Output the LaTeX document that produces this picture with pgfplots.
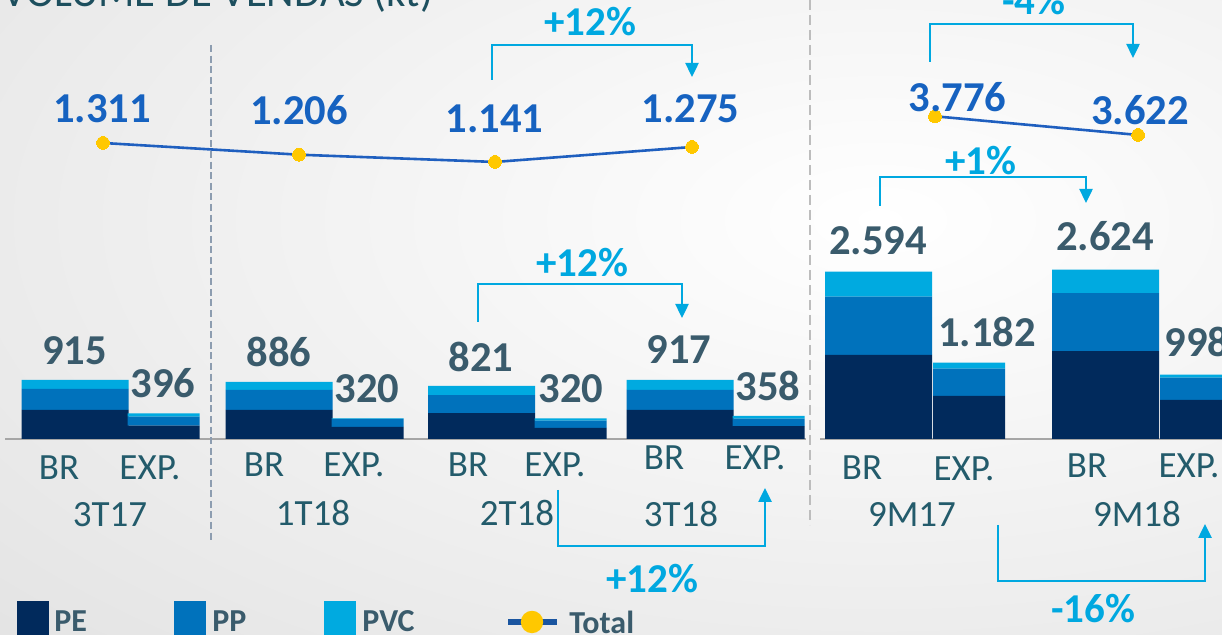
\documentclass[border=0pt]{standalone}
\usepackage{pgfplots}
\usepackage{pgfplotstable}
\pgfplotsset{compat=1.18}
\usepackage{fontspec}
\setmainfont{Carlito}
\usetikzlibrary{arrows.meta}
\definecolor{PEc}{HTML}{012A5C}
\definecolor{PPc}{HTML}{0072BC}
\definecolor{PVCc}{HTML}{00AAE0}
\definecolor{linec}{HTML}{1F5FBF}
\definecolor{legline}{HTML}{1A55A0}
\definecolor{dotc}{HTML}{FFC800}
\definecolor{barlab}{HTML}{3A5B6C}
\definecolor{linelab}{HTML}{1662C0}
\definecolor{catlab}{HTML}{235B6B}
\definecolor{annc}{HTML}{00A8E0}
\definecolor{bgout}{HTML}{D2D2D2}
\definecolor{sepL}{HTML}{8D9DB0}
\definecolor{sepR}{HTML}{BDBDBD}
\definecolor{basec}{HTML}{A6A6A6}
\definecolor{titc}{HTML}{1D4F5E}

\pgfplotstableread{
x PE PP PVC
75 450 325 140
279 450 310 126
481.5 400 280 141
680 450 310 157
878.5 1304 900 390
1105.5 1360 900 364
}\brdata
\pgfplotstableread{
x PE PP PVC
163.5 205 140 51
367.5 185 125 10
570.5 170 115 35
768.5 200 115 43
969 668 420 94
1196 605 345 48
}\expdata
\pgfplotstableread{
x total
103 1311
299 1206
495 1141
692 1275
}\qtotal
\pgfplotstableread{
x total
935 3776
1138 3622
}\mtotal

\pgfplotsset{
  base/.style={hide axis, clip=false, x=0.5pt, xmin=0, xmax=1222,
     enlargelimits=false, anchor=south west, at={(0,0)}},
  bars/.style={base, ybar stacked, y=0.03225pt, ymin=-3038.8, ymax=6806.2},
}
\newcommand\fs[1]{\fontsize{#1pt}{#1pt}\selectfont}

\begin{document}
\begin{tikzpicture}
\useasboundingbox (0,0) rectangle (611pt,317.5pt);
\clip (0,0) rectangle (611pt,317.5pt);
\begin{scope}[shift={(0,317.5pt)}, x=0.5pt, y=-0.5pt]
  \shade[inner color=white, outer color=bgout] (-1120,-780) rectangle (2880,1220);
  \draw[basec, line width=1pt] (5,439) -- (806,439);
  \draw[basec, line width=1pt] (820,439) -- (1222,439);
\end{scope}

% bars BR
\begin{axis}[bars, bar width=107]
\addplot[fill=PEc, draw=none] table[x=x,y=PE]{\brdata};
\addplot[fill=PPc, draw=none] table[x=x,y=PP]{\brdata};
\addplot[fill=PVCc, draw=none] table[x=x,y=PVC]{\brdata};
\end{axis}
% bars EXP
\begin{axis}[bars, bar width=72]
\addplot[fill=PEc, draw=none] table[x=x,y=PE]{\expdata};
\addplot[fill=PPc, draw=none] table[x=x,y=PP]{\expdata};
\addplot[fill=PVCc, draw=none] table[x=x,y=PVC]{\expdata};
\end{axis}
% quarterly total line
\begin{axis}[base, y=0.05588pt, ymin=-3091.4, ymax=2590.4]
\addplot[linec, line width=1.3pt, mark=*, mark size=3.2pt, mark options={fill=dotc, draw=dotc, line width=0pt}] table[x=x,y=total]{\qtotal};
\end{axis}
% 9M total line
\begin{axis}[base, y=0.0607pt, ymin=-496.7, ymax=4733.9]
\addplot[linec, line width=1.3pt, mark=*, mark size=3.2pt, mark options={fill=dotc, draw=dotc, line width=0pt}] table[x=x,y=total]{\mtotal};
\end{axis}

\begin{scope}[shift={(0,317.5pt)}, x=0.5pt, y=-0.5pt]
  % title
  \node[anchor=base west, inner sep=0, text=titc, font=\fs{21.3}] at (2,6.5) {VOLUME DE VENDAS (kt)};
  % separators
  \draw[sepL, line width=1.2pt, dash pattern=on 3.5pt off 1.8pt] (211,45) -- (211,540);
  \draw[sepR, line width=1.3pt, dash pattern=on 5pt off 2.5pt] (810,0) -- (810,525);
  % bar value labels
  \begin{scope}[every node/.style={anchor=base, inner sep=0, text=barlab, font=\fs{21.3}\bfseries}]
    \node at (74.5,365) {915};
    \node at (163,398) {396};
    \node at (279,367) {886};
    \node at (367,403) {320};
    \node at (481,372) {821};
    \node at (571,403) {320};
    \node at (679,364) {917};
    \node at (768,401) {358};
    \node at (878,255) {2.594};
    \node at (987,347) {1.182};
    \node at (1105,251) {2.624};
    \node[anchor=base west] at (1164,357) {998};
  \end{scope}
  % line value labels
  \begin{scope}[every node/.style={anchor=base, inner sep=0, text=linelab, font=\fs{21.3}\bfseries}]
    \node at (102,123) {1.311};
    \node at (299,125) {1.206};
    \node at (494.5,133) {1.141};
    \node at (690.5,123) {1.275};
    \node at (957.5,112) {3.776};
    \node at (1140,125) {3.622};
  \end{scope}
  % category labels
  \begin{scope}[every node/.style={anchor=base, inner sep=0, text=catlab, font=\fs{18.5}}]
    \node at (59,480) {BR};   \node at (150,480) {EXP.};  \node at (110,527) {3T17};
    \node at (264,477) {BR};  \node at (354,477) {EXP.};  \node at (313,526) {1T18};
    \node at (468,477) {BR};  \node at (555,477) {EXP.};  \node at (517,526) {2T18};
    \node at (664,470) {BR};  \node at (755,470) {EXP.};  \node at (681,527) {3T18};
    \node at (862,480) {BR};  \node at (964,481) {EXP.};  \node at (912,527) {9M17};
    \node at (1087,478) {BR}; \node at (1189,478) {EXP.}; \node at (1137,527) {9M18};
  \end{scope}
  % annotation brackets
  \begin{scope}[annc, line width=1.25pt, -{Triangle[width=6.5pt,length=7pt]}]
    \draw (492,80) -- (492,45) -- (692,45) -- (692,77);
    \draw (478,322) -- (478,284) -- (682,284) -- (682,318);
    \draw (558,490) -- (558,546) -- (765,546) -- (765,488);
    \draw (930,62) -- (930,24) -- (1133,24) -- (1133,58);
    \draw (880,206) -- (880,177) -- (1086,177) -- (1086,203);
    \draw (998,525) -- (998,581) -- (1205,581) -- (1205,524);
  \end{scope}
  \begin{scope}[every node/.style={anchor=base, inner sep=0, text=annc, font=\fs{20.5}\bfseries}]
    \node at (590,36) {+12\%};
    \node at (582,277) {+12\%};
    \node at (652,593) {+12\%};
    \node at (1034,15) {-4\%};
    \node at (981,175) {+1\%};
    \node at (1093,623) {-16\%};
  \end{scope}
  % legend
  \fill[PEc] (17,601) rectangle (49,635);
  \fill[PPc] (174,601) rectangle (206,635);
  \fill[PVCc] (324,601) rectangle (356,635);
  \draw[legline, line width=3.2pt] (508,622) -- (557,622);
  \fill[dotc] (532,622) circle (5.6pt);
  \begin{scope}[every node/.style={anchor=base west, inner sep=0, text=barlab, font=\fs{16}\bfseries}]
    \node at (54,632) {PE};
    \node at (212,632) {PP};
    \node at (362,632) {PVC};
    \node at (569,634) {Total};
  \end{scope}
\end{scope}
\end{tikzpicture}
\end{document}
